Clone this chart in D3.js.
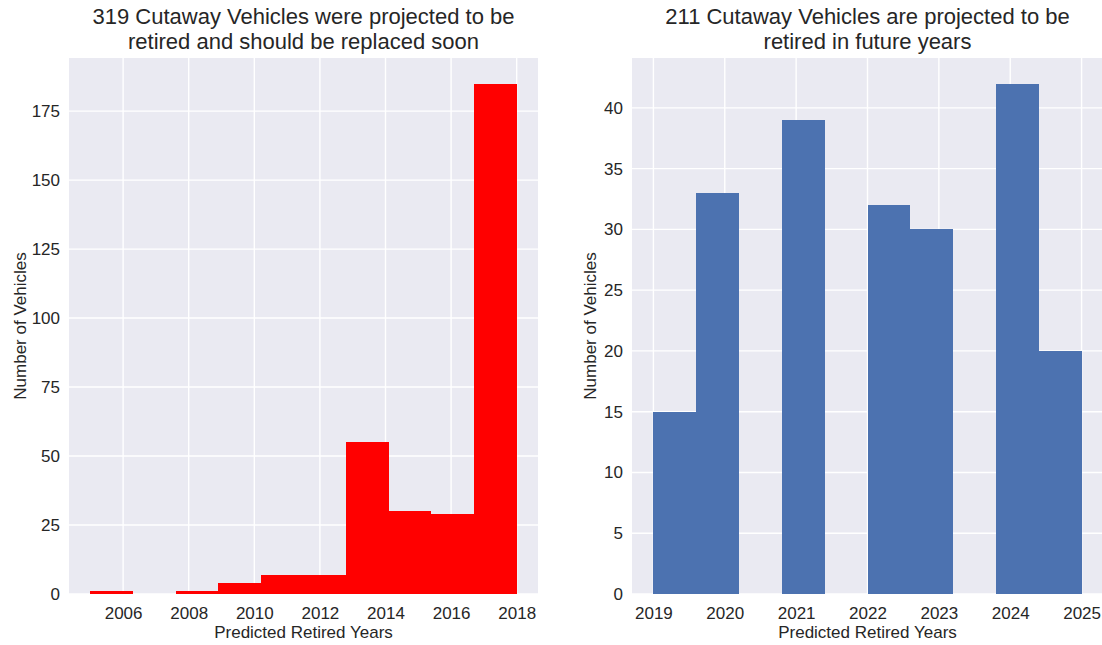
<!DOCTYPE html>
<html>
<head>
<meta charset="utf-8">
<script src="https://cdn.jsdelivr.net/npm/d3@7/dist/d3.min.js"></script>
<style>
  body { margin: 0; background: #fff; overflow: hidden; }
  svg text { font-family: "Liberation Sans", Arial, sans-serif; fill: #262626; }
  .grid line { stroke: #fff; stroke-width: 1.4; }
</style>
</head>
<body>
<div id="chart"></div>
<script>
// left: already retired
var pastEdges = [2005, 2006.3, 2007.6, 2008.9, 2010.2, 2011.5, 2012.8, 2014.1, 2015.4, 2016.7, 2018];
var pastCounts = [1, 0, 1, 4, 7, 7, 55, 30, 29, 185];
var pastXTicks = [2006, 2008, 2010, 2012, 2014, 2016, 2018];
var pastYTicks = [0, 25, 50, 75, 100, 125, 150, 175];
var pastTitle = ["319 Cutaway Vehicles were projected to be", "retired and should be replaced soon"];

// right: future years
var futureEdges = [2019, 2019.6, 2020.2, 2020.8, 2021.4, 2022, 2022.6, 2023.2, 2023.8, 2024.4, 2025];
var futureCounts = [15, 33, 0, 39, 0, 32, 30, 0, 42, 20];
var futureXTicks = [2019, 2020, 2021, 2022, 2023, 2024, 2025];
var futureYTicks = [0, 5, 10, 15, 20, 25, 30, 35, 40];
var futureTitle = ["211 Cutaway Vehicles are projected to be", "retired in future years"];

var xLabel = "Predicted Retired Years",
    yLabel = "Number of Vehicles";

var width = 1102,
    height = 645;

var svg = d3.select("#chart").append("svg")
    .attr("width", width)
    .attr("height", height);

function drawHist(opts) {
    var x0 = opts.left, x1 = opts.right, top = 58, bottom = 594;
    var edges = opts.edges, counts = opts.counts;
    var lo = edges[0], hi = edges[edges.length - 1], pad = (hi - lo) * 0.05;
    var x = d3.scaleLinear().domain([lo - pad, hi + pad]).range([x0, x1]);
    var y = d3.scaleLinear().domain([0, d3.max(counts) * 1.05]).range([bottom, top]);

    var g = svg.append("g");

    g.append("rect")
        .attr("x", x0).attr("y", top)
        .attr("width", x1 - x0).attr("height", bottom - top)
        .attr("fill", "#EAEAF2");

    g.append("g").attr("class", "grid")
        .selectAll("line").data(opts.yTicks)
        .enter().append("line")
        .attr("x1", x0).attr("x2", x1)
        .attr("y1", d => y(d)).attr("y2", d => y(d));

    g.append("g").attr("class", "grid")
        .selectAll("line").data(opts.xTicks)
        .enter().append("line")
        .attr("y1", top).attr("y2", bottom)
        .attr("x1", d => x(d)).attr("x2", d => x(d));

    g.append("g")
        .attr("shape-rendering", "crispEdges")
        .selectAll("rect").data(counts)
        .enter().append("rect")
        .attr("x", (d, i) => x(edges[i]))
        .attr("width", (d, i) => x(edges[i + 1]) - x(edges[i]))
        .attr("y", d => y(d))
        .attr("height", d => bottom - y(d))
        .attr("fill", opts.color);

    var xAxis = g.append("g")
        .attr("transform", "translate(0," + bottom + ")")
        .call(d3.axisBottom(x).tickValues(opts.xTicks).tickFormat(d3.format("d")).tickSize(0).tickPadding(13));
    var yAxis = g.append("g")
        .attr("transform", "translate(" + x0 + ",0)")
        .call(d3.axisLeft(y).tickValues(opts.yTicks).tickSize(0).tickPadding(9));
    [xAxis, yAxis].forEach(a => {
        a.select(".domain").remove();
        a.selectAll("text").style("font-size", "17px").attr("fill", "#262626");
    });
    xAxis.selectAll("text").attr("dy", "0.71em");

    g.append("text")
        .attr("x", (x0 + x1) / 2).attr("y", 638)
        .attr("text-anchor", "middle")
        .style("font-size", "17px")
        .text(xLabel);

    g.append("text")
        .attr("transform", "translate(" + opts.yLabelX + "," + ((top + bottom) / 2) + ") rotate(-90)")
        .attr("text-anchor", "middle")
        .style("font-size", "17px")
        .text(yLabel);

    g.append("g").selectAll("text").data(opts.title)
        .enter().append("text")
        .attr("x", (x0 + x1) / 2)
        .attr("y", (d, i) => 24 + i * 25)
        .attr("text-anchor", "middle")
        .style("font-size", "22px")
        .text(d => d);
}

drawHist({
    left: 69, right: 538, edges: pastEdges, counts: pastCounts,
    xTicks: pastXTicks, yTicks: pastYTicks, color: "#FF0000",
    title: pastTitle, yLabelX: 26
});

drawHist({
    left: 632, right: 1103, edges: futureEdges, counts: futureCounts,
    xTicks: futureXTicks, yTicks: futureYTicks, color: "#4C72B0",
    title: futureTitle, yLabelX: 596
});
</script>
</body>
</html>
